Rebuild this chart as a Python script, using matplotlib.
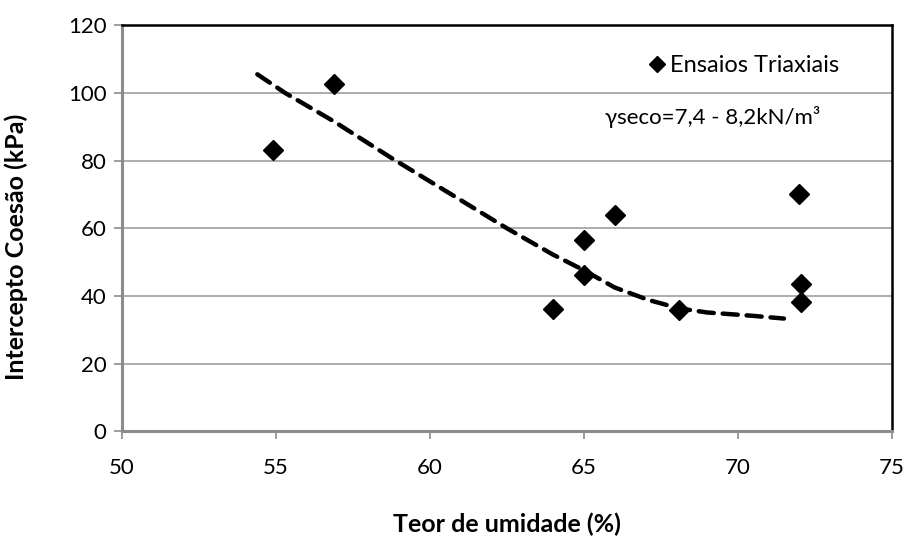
import matplotlib
matplotlib.use("Agg")
import matplotlib.pyplot as plt

# Data
umidade = [54.9, 56.9, 64.0, 65.0, 65.0, 66.0, 68.1, 72.0, 72.05, 72.05]
coesao = [83.2, 102.5, 36.2, 56.5, 46.3, 63.9, 35.9, 70.1, 43.4, 38.2]

trend_x = [54.4, 55.3, 56.9, 58.8, 60.7, 62.5, 64.0, 65.0, 66.0, 67.1, 68.1, 69.0, 70.5, 71.5]
trend_y = [105.5, 100.0, 91.5, 80.5, 70.0, 60.0, 52.2, 47.6, 42.5, 38.8, 36.3, 35.1, 34.1, 33.3]

x_ticks = [50, 55, 60, 65, 70, 75]
y_ticks = [0, 20, 40, 60, 80, 100, 120]

plt.rcParams['font.family'] = ['Lato', 'DejaVu Sans']

fig = plt.figure(figsize=(9.09, 5.37), dpi=100)
ax = fig.add_axes([0.134, 0.197, 0.847, 0.756])

ax.set_xlim(50, 75)
ax.set_ylim(0, 120)
ax.set_xticks(x_ticks)
ax.set_yticks(y_ticks)

ax.grid(axis='y', color='#a6a6a6', linewidth=1.3, zorder=0)
ax.set_axisbelow(True)

ax.plot(trend_x, trend_y, color='black', linewidth=3.2, linestyle=(0, (3.4, 2.0)),
        dash_capstyle='round', zorder=2)
ax.plot(umidade, coesao, linestyle='none', marker='D', markersize=10.5,
        color='black', zorder=3, label='Ensaios Triaxiais')

for s in ['left', 'bottom']:
    ax.spines[s].set_color('#8c8c8c')
    ax.spines[s].set_linewidth(2.2)
for s in ['top', 'right']:
    ax.spines[s].set_color('black')
    ax.spines[s].set_linewidth(1.8)

ax.tick_params(axis='both', direction='out', length=6, width=1.2, color='#8c8c8c',
               labelsize=16)
ax.tick_params(axis='y', pad=5)
ax.tick_params(axis='x', pad=13)

ax.set_xlabel('Teor de umidade (%)', fontsize=18, fontweight='bold')
ax.set_ylabel('Intercepto Coesão (kPa)', fontsize=18, fontweight='bold')
ax.xaxis.set_label_coords(0.5, -0.200)
ax.yaxis.set_label_coords(-0.122, 0.455)

leg = ax.legend(loc='center left', frameon=False, fontsize=17, handletextpad=0.15,
                markerscale=0.75, bbox_to_anchor=(0.683, 0.90), handlelength=0.8,
                borderpad=0, borderaxespad=0)

ax.text(0.627, 0.774, 'γseco=7,4 - 8,2kN/m³', transform=ax.transAxes, fontsize=16,
        ha='left', va='center')

fig.savefig('out.png', dpi=100)
